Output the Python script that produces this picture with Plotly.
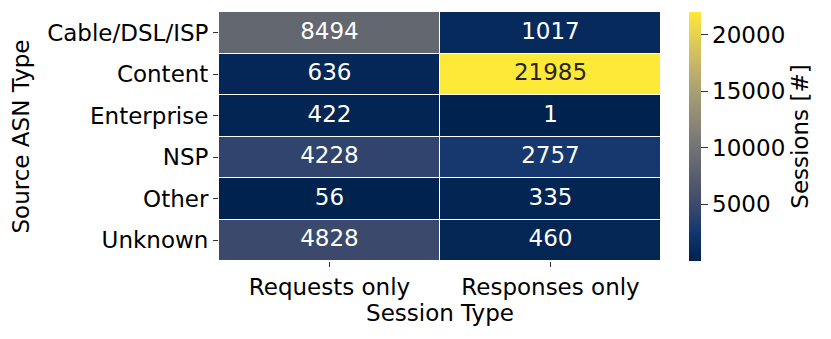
import plotly.graph_objects as go

rows = ["Cable/DSL/ISP", "Content", "Enterprise", "NSP", "Other", "Unknown"]
cols = ["Requests only", "Responses only"]
requests_only = [8494, 636, 422, 4228, 56, 4828]
responses_only = [1017, 21985, 1, 2757, 335, 460]
cbar_ticks = [5000, 10000, 15000, 20000]

z = [[a, b] for a, b in zip(requests_only, responses_only)]
zmin = min(min(requests_only), min(responses_only))
zmax = max(max(requests_only), max(responses_only))

FONT = "DejaVu Sans"
FS = 23

fig = go.Figure()
fig.add_trace(go.Heatmap(
    z=z, x=cols, y=rows,
    colorscale="Cividis", zmin=zmin, zmax=zmax,
    xgap=1, ygap=1,
    hoverinfo="skip",
    colorbar=dict(
        x=1.063, xanchor="left", xref="paper", xpad=0, ypad=0,
        y=0, yanchor="bottom", len=1, lenmode="fraction",
        thickness=12, outlinewidth=0,
        tickvals=cbar_ticks, ticktext=[str(t) for t in cbar_ticks],
        ticks="outside", ticklen=7, tickcolor="#333",
        tickfont=dict(family=FONT, size=FS, color="black"),
        title=dict(text="Sessions [#]", side="right",
                   font=dict(family=FONT, size=FS, color="black")),
    ),
))

# cell labels
xs, ys, txt, colors = [], [], [], []
for r, a, b in zip(rows, requests_only, responses_only):
    for c, v in zip(cols, [a, b]):
        xs.append(c); ys.append(r); txt.append(str(v))
        frac = (v - zmin) / (zmax - zmin)
        colors.append("#262626" if frac > 0.6 else "white")
fig.add_trace(go.Scatter(
    x=xs, y=ys, text=txt, mode="text",
    textfont=dict(family=FONT, size=FS, color=colors),
    hoverinfo="skip", showlegend=False,
))

# the page body has an 8px margin, so the figure is shrunk/shifted to compensate
fig.update_layout(
    width=823, height=331,
    margin=dict(l=211, r=170, t=4, b=78),
    paper_bgcolor="white", plot_bgcolor="white",
    font=dict(family=FONT, size=FS, color="black"),
    showlegend=False,
)
fig.update_xaxes(
    title=dict(text="Session Type", standoff=0, font=dict(size=FS)),
    ticks="outside", ticklen=5, tickcolor="#333",
    showgrid=False, zeroline=False, showline=False,
    tickfont=dict(size=FS),
)
fig.update_yaxes(
    title=dict(text="Source ASN Type", standoff=12, font=dict(size=FS)),
    autorange="reversed",
    ticks="outside", ticklen=5, tickcolor="#333",
    showgrid=False, zeroline=False, showline=False,
    tickfont=dict(size=FS),
)

fig.write_html("out.html")
